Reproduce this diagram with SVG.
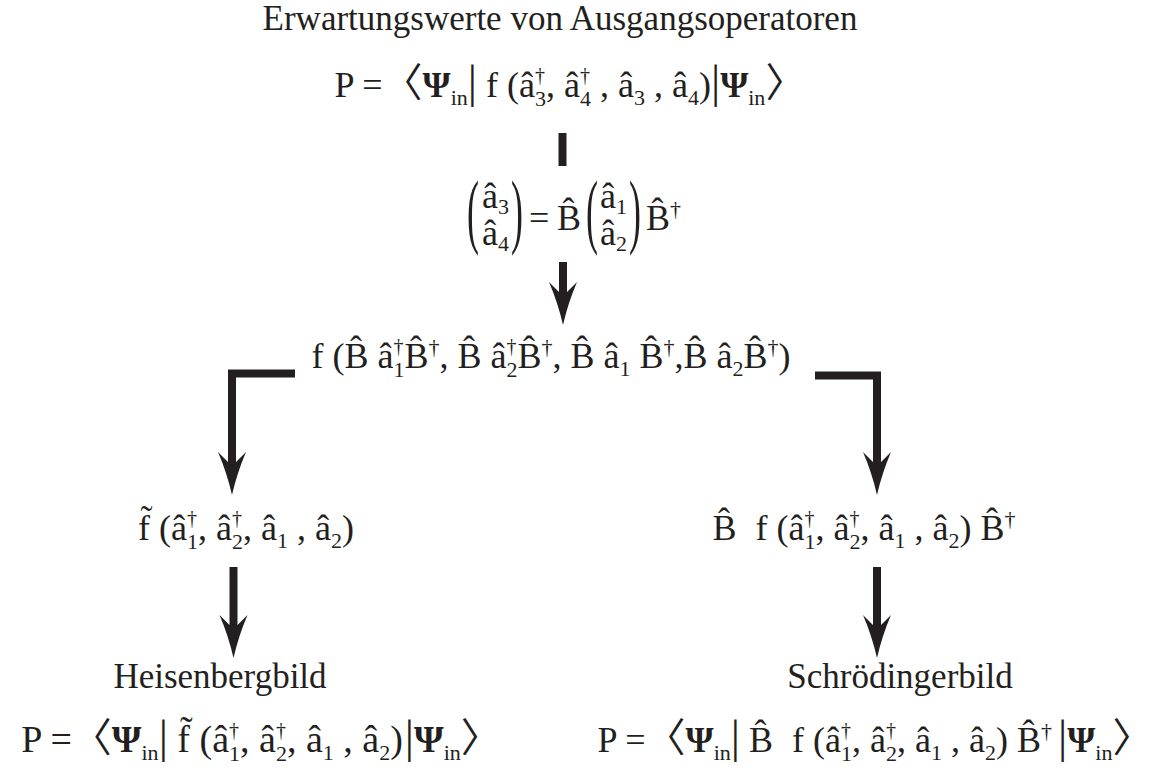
<svg xmlns="http://www.w3.org/2000/svg" width="1157" height="767" viewBox="0 0 1157 767">
<style>
.t{font-family:"Liberation Serif","Times New Roman",serif;font-size:35px;fill:#231f20}
.m{font-family:"Liberation Serif","Times New Roman",serif;font-size:36px;fill:#231f20}
.b{font-size:38px}
.s{font-size:22px}
.u{font-size:20px}
.p{font-weight:bold}
.d{font-family:"Noto Sans CJK JP","DejaVu Serif",sans-serif;font-size:40px;font-weight:normal}
.v{font-family:"Liberation Serif",serif;font-size:46px}
.c{fill:none;stroke:#231f20;stroke-width:8;stroke-linejoin:miter;stroke-linecap:butt}
.h{fill:#231f20}
</style>
<defs>
<marker id="arr" markerUnits="userSpaceOnUse" viewBox="-44 -15 46 30" markerWidth="46" markerHeight="30" refX="-33" refY="0" orient="auto" overflow="visible">
<path class="h" d="M0,0 Q-22,-5 -43,-14 L-33,-4 L-33,4 L-43,14 Q-22,5 0,0 Z"/>
</marker>
</defs>
<g id="connectors">
<line class="c" x1="562.5" y1="133" x2="562.5" y2="166"/>
<line class="c" x1="563" y1="262" x2="563" y2="292" marker-end="url(#arr)"/>
<path class="c" d="M295,373.5 H232 V462" marker-end="url(#arr)"/>
<path class="c" d="M815,375.5 H877 V462" marker-end="url(#arr)"/>
<line class="c" x1="233.5" y1="567" x2="233.5" y2="625" marker-end="url(#arr)"/>
<line class="c" x1="877" y1="567" x2="877" y2="625" marker-end="url(#arr)"/>
</g>
<g id="title">
<text class="t" x="560" y="30" text-anchor="middle">Erwartungswerte von Ausgangsoperatoren</text>
</g>
<g id="output-expectation">
<text class="m" x="570" y="97" text-anchor="middle">P =<tspan class="d">〈</tspan><tspan class="p">Ψ</tspan><tspan class="s" dy="8">in</tspan><tspan class="v" dy="-8">|</tspan> f (â<tspan class="u" dy="-15">†</tspan><tspan class="s" dx="-10" dy="24">3</tspan><tspan dy="-9">, â</tspan><tspan class="u" dy="-15">†</tspan><tspan class="s" dx="-10" dy="24">4</tspan><tspan dy="-9"> , â</tspan><tspan class="s" dy="8">3</tspan><tspan dy="-8"> , â</tspan><tspan class="s" dy="8">4</tspan><tspan dy="-8">)</tspan><tspan class="v">|</tspan><tspan class="p">Ψ</tspan><tspan class="s" dy="8">in</tspan><tspan class="d" dy="-8">〉</tspan></text>
</g>
<g id="transformation">
<text class="m" transform="translate(467,238) scale(1,2.3)">(</text>
<text class="m" x="482" y="208">â<tspan class="s" dy="6">3</tspan></text>
<text class="m" x="482" y="245">â<tspan class="s" dy="6">4</tspan></text>
<text class="m" transform="translate(511,238) scale(1,2.3)">)</text>
<text class="m" x="529" y="230">=</text>
<text class="m" x="557" y="230">B̂</text>
<text class="m" transform="translate(586,238) scale(1,2.3)">(</text>
<text class="m" x="600" y="208">â<tspan class="s" dy="6">1</tspan></text>
<text class="m" x="600" y="245">â<tspan class="s" dy="6">2</tspan></text>
<text class="m" transform="translate(629,238) scale(1,2.3)">)</text>
<text class="m" x="646" y="230">B̂<tspan class="s" dy="-14">†</tspan></text>
</g>
<g id="substituted">
<text class="m" x="551" y="368" text-anchor="middle">f (B̂ â<tspan class="u" dy="-15">†</tspan><tspan class="s" dx="-10" dy="24">1</tspan><tspan dy="-9">B̂</tspan><tspan class="s" dy="-14">†</tspan><tspan dy="14">, B̂ â</tspan><tspan class="u" dy="-15">†</tspan><tspan class="s" dx="-10" dy="24">2</tspan><tspan dy="-9">B̂</tspan><tspan class="s" dy="-14">†</tspan><tspan dy="14">, B̂ â</tspan><tspan class="s" dy="8">1</tspan><tspan dy="-8"> B̂</tspan><tspan class="s" dy="-14">†</tspan><tspan dy="14">,B̂ â</tspan><tspan class="s" dy="8">2</tspan><tspan dy="-8">B̂</tspan><tspan class="s" dy="-14">†</tspan><tspan dy="14">)</tspan></text>
</g>
<g id="heisenberg-operator">
<text class="m" x="246" y="540" text-anchor="middle">f̃ (â<tspan class="u" dy="-15">†</tspan><tspan class="s" dx="-10" dy="24">1</tspan><tspan dy="-9">, â</tspan><tspan class="u" dy="-15">†</tspan><tspan class="s" dx="-10" dy="24">2</tspan><tspan dy="-9">, â</tspan><tspan class="s" dy="8">1</tspan><tspan dy="-8"> , â</tspan><tspan class="s" dy="8">2</tspan><tspan dy="-8">)</tspan></text>
</g>
<g id="schroedinger-operator">
<text class="m" x="864" y="540" text-anchor="middle">B̂<tspan dx="10"> f (â</tspan><tspan class="u" dy="-15">†</tspan><tspan class="s" dx="-10" dy="24">1</tspan><tspan dy="-9">, â</tspan><tspan class="u" dy="-15">†</tspan><tspan class="s" dx="-10" dy="24">2</tspan><tspan dy="-9">, â</tspan><tspan class="s" dy="8">1</tspan><tspan dy="-8"> , â</tspan><tspan class="s" dy="8">2</tspan><tspan dy="-8">) B̂</tspan><tspan class="s" dy="-14">†</tspan></text>
</g>
<g id="heisenberg">
<text class="t" x="220" y="688" text-anchor="middle">Heisenbergbild</text>
<text class="m b" x="261" y="752" text-anchor="middle">P =<tspan class="d">〈</tspan><tspan class="p">Ψ</tspan><tspan class="s" dy="8">in</tspan><tspan class="v" dy="-8">|</tspan> f̃ (â<tspan class="u" dy="-15">†</tspan><tspan class="s" dx="-10" dy="24">1</tspan><tspan dy="-9">, â</tspan><tspan class="u" dy="-15">†</tspan><tspan class="s" dx="-10" dy="24">2</tspan><tspan dy="-9">, â</tspan><tspan class="s" dy="8">1</tspan><tspan dy="-8"> , â</tspan><tspan class="s" dy="8">2</tspan><tspan dy="-8">)</tspan><tspan class="v" dx="2">|</tspan><tspan class="p">Ψ</tspan><tspan class="s" dy="8">in</tspan><tspan class="d" dy="-8">〉</tspan></text>
</g>
<g id="schroedinger">
<text class="t" x="900" y="688" text-anchor="middle">Schrödingerbild</text>
<text class="m" x="875" y="752" text-anchor="middle">P =<tspan class="d">〈</tspan><tspan class="p">Ψ</tspan><tspan class="s" dy="8">in</tspan><tspan class="v" dy="-8">|</tspan> B̂<tspan dx="10"> f (â</tspan><tspan class="u" dy="-15">†</tspan><tspan class="s" dx="-10" dy="24">1</tspan><tspan dy="-9">, â</tspan><tspan class="u" dy="-15">†</tspan><tspan class="s" dx="-10" dy="24">2</tspan><tspan dy="-9">, â</tspan><tspan class="s" dy="8">1</tspan><tspan dy="-8"> , â</tspan><tspan class="s" dy="8">2</tspan><tspan dy="-8">) B̂</tspan><tspan class="s" dy="-14">†</tspan><tspan class="v" dx="6" dy="14">|</tspan><tspan class="p">Ψ</tspan><tspan class="s" dy="8">in</tspan><tspan class="d" dy="-8">〉</tspan></text>
</g>
</svg>
